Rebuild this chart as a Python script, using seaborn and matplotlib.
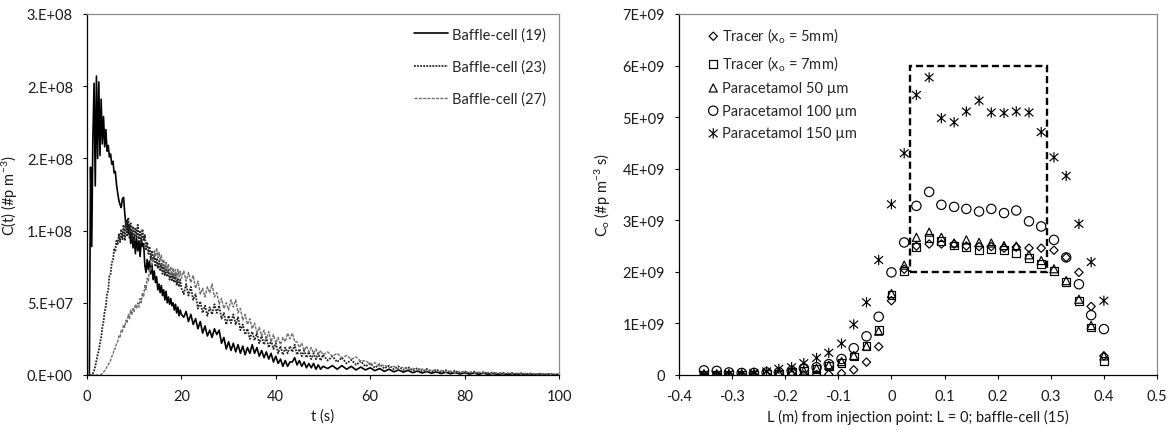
import numpy as np
import matplotlib
matplotlib.use("Agg")
import matplotlib.pyplot as plt
from matplotlib.path import Path
from matplotlib.patches import Rectangle
import seaborn as sns

# ---------------- left panel: concentration vs time (units of 1E7 #p m^-3) ----------------
# sampling: 0-20 s every 0.25 s, 20.5-50 s every 0.5 s, 51-100 s every 1 s
t_early = np.arange(0, 20.001, 0.25)
t_mid = np.arange(20.5, 50.001, 0.5)
t_late = np.arange(51, 100.001, 1.0)

bc19_early = [0, 0, 0, 14.4, 8.9, 16.5, 20.2, 13.1, 20.7, 15.0,
              20.3, 15.2, 19.1, 16.0, 17.9, 15.8, 17.0, 15.5, 15.9, 15.1,
              15.3, 14.6, 14.8, 14.0, 14.1, 13.2, 12.6, 12.1, 11.8, 11.6,
              12.2, 12.3, 11.2, 10.3, 10.7, 9.8, 10.4, 9.1, 9.9, 8.8,
              9.6, 8.4, 9.5, 8.6, 9.3, 8.2, 9.4, 8.9, 9.1, 7.6,
              7.1, 8.0, 7.3, 7.9, 7.0, 7.7, 6.6, 7.2, 6.4, 6.8,
              5.9, 6.3, 5.7, 6.2, 5.5, 5.9, 5.2, 5.8, 5.0, 5.4,
              4.9, 5.3, 4.8, 5.0, 4.5, 4.9, 4.3, 4.7, 4.1, 4.5,
              4.2]
bc19_mid = [4.0, 4.4, 3.7, 4.2, 3.5, 3.9, 3.2, 3.7, 2.9, 3.4,
            2.7, 3.1, 2.6, 3.2, 2.8, 3.1, 2.2, 2.6, 1.8, 2.3,
            1.7, 2.2, 1.6, 2.1, 1.5, 2.0, 1.4, 1.9, 1.5, 2.1,
            1.5, 1.9, 1.3, 1.7, 1.2, 1.6, 1.1, 1.5, 0.9, 1.3,
            0.8, 1.1, 0.6, 1.0, 0.6, 0.9, 0.9, 1.2, 0.7, 1.0,
            0.6, 0.9, 0.5, 0.8, 0.5, 0.8, 0.4, 0.7, 0.4, 0.6]
bc19_late = [0.45, 0.65, 0.4, 0.65, 0.4, 0.6, 0.35, 0.55, 0.35, 0.5,
             0.3, 0.45, 0.25, 0.4, 0.22, 0.35, 0.2, 0.32, 0.16, 0.28,
             0.14, 0.24, 0.12, 0.22, 0.1, 0.19, 0.09, 0.17, 0.07, 0.15,
             0.06, 0.13, 0.05, 0.12, 0.05, 0.1, 0.04, 0.09, 0.03, 0.08,
             0.03, 0.07, 0.02, 0.06, 0.02, 0.05, 0.02, 0.04, 0.01, 0.03]

bc23_early = [0, 0, 0, 0, 0, 0.1, 0.3, 0.6, 1.0, 1.4,
              1.7, 2.2, 2.6, 3.3, 3.7, 4.4, 4.8, 5.6, 5.9, 6.9,
              7.0, 7.8, 7.9, 8.7, 8.6, 9.3, 9.0, 9.8, 9.2, 10.1,
              9.4, 10.4, 9.3, 10.6, 9.6, 10.9, 9.5, 10.5, 9.4, 10.3,
              9.3, 10.2, 9.5, 10.4, 9.4, 10.0, 9.2, 10.1, 9.3, 9.7,
              8.7, 9.2, 8.4, 8.9, 8.0, 8.6, 7.8, 8.3, 7.5, 8.1,
              7.4, 7.9, 7.2, 7.7, 7.0, 7.6, 6.9, 7.5, 6.8, 7.3,
              6.6, 7.1, 6.5, 7.0, 6.4, 6.9, 6.2, 6.7, 6.1, 6.6,
              6.0]
bc23_mid = [5.6, 6.3, 5.5, 6.1, 5.2, 5.6, 4.6, 5.1, 4.3, 4.8,
            4.1, 4.7, 4.2, 4.9, 4.3, 4.8, 3.9, 4.3, 3.5, 4.1,
            3.6, 4.2, 3.5, 4.0, 3.1, 3.5, 2.8, 3.2, 2.5, 3.0,
            2.4, 2.9, 2.2, 2.7, 2.1, 2.6, 1.9, 2.4, 1.8, 2.2,
            1.5, 2.0, 1.4, 1.9, 1.5, 2.0, 1.6, 2.1, 1.4, 1.8,
            1.3, 1.7, 1.2, 1.6, 1.1, 1.5, 1.1, 1.5, 1.0, 1.4]
bc23_late = [1.0, 1.3, 0.9, 1.2, 0.8, 1.05, 0.7, 0.95, 0.6, 0.8,
             0.5, 0.75, 0.45, 0.65, 0.4, 0.6, 0.35, 0.55, 0.3, 0.48,
             0.25, 0.42, 0.22, 0.38, 0.2, 0.33, 0.16, 0.3, 0.14, 0.26,
             0.12, 0.23, 0.1, 0.2, 0.09, 0.18, 0.07, 0.16, 0.06, 0.14,
             0.05, 0.12, 0.05, 0.1, 0.04, 0.09, 0.03, 0.08, 0.03, 0.06]

bc27_early = [0, 0, 0, 0, 0, 0, 0, 0, 0, 0,
              0, 0, 0.05, 0.1, 0.2, 0.3, 0.4, 0.6, 0.7, 0.9,
              1.0, 1.3, 1.4, 1.8, 1.8, 2.2, 2.3, 2.7, 2.6, 3.1,
              3.0, 3.5, 3.3, 3.8, 3.6, 4.2, 3.9, 4.5, 4.2, 4.6,
              4.4, 4.9, 4.6, 5.0, 4.7, 5.3, 5.0, 5.7, 5.4, 6.2,
              5.9, 6.7, 6.5, 7.4, 7.2, 8.1, 7.8, 8.6, 8.2, 8.8,
              8.1, 8.5, 7.9, 8.3, 7.6, 8.0, 7.4, 7.8, 7.2, 7.7,
              7.0, 7.5, 6.9, 7.4, 6.8, 7.3, 6.7, 7.3, 6.8, 7.2,
              6.7]
bc27_mid = [7.2, 6.5, 7.1, 6.4, 6.9, 6.0, 6.5, 5.6, 6.0, 5.4,
            6.1, 5.7, 6.3, 5.4, 5.7, 4.9, 5.3, 4.6, 5.0, 4.5,
            5.2, 4.7, 5.2, 4.3, 4.6, 3.8, 4.2, 3.5, 3.9, 3.2,
            3.6, 2.9, 3.3, 2.7, 3.1, 2.5, 3.0, 2.3, 2.8, 2.2,
            2.6, 2.1, 2.6, 2.3, 2.9, 2.5, 2.9, 2.3, 2.3, 1.9,
            2.2, 1.7, 2.0, 1.6, 1.9, 1.5, 1.8, 1.4, 1.7, 1.4]
bc27_late = [1.6, 1.3, 1.5, 1.2, 1.35, 1.1, 1.25, 0.95, 1.0, 0.75,
             0.85, 0.6, 0.7, 0.5, 0.6, 0.42, 0.55, 0.37, 0.46, 0.32,
             0.42, 0.27, 0.36, 0.23, 0.32, 0.2, 0.28, 0.17, 0.25, 0.14,
             0.22, 0.12, 0.2, 0.1, 0.18, 0.08, 0.16, 0.07, 0.14, 0.06,
             0.13, 0.05, 0.12, 0.05, 0.1, 0.04, 0.09, 0.03, 0.07, 0.03]

left_yticks = [0, 5e7, 1e8, 1.5e8, 2e8, 2.5e8]
left_yticklabels = ["0.E+00", "5.E+07", "1.E+08", "2.E+08", "2.E+08", "3.E+08"]
left_xticks = [0, 20, 40, 60, 80, 100]

# ---------------- right panel: C_o along the column (units of 1E9) ----------------
L_pos = [-0.353, -0.329, -0.306, -0.282, -0.259, -0.235, -0.212, -0.188, -0.165,
         -0.141, -0.118, -0.094, -0.071, -0.047, -0.024, 0.0, 0.024, 0.047, 0.071,
         0.094, 0.118, 0.141, 0.165, 0.188, 0.212, 0.235, 0.259, 0.282, 0.306,
         0.329, 0.353, 0.376, 0.400]
tracer_5mm = [0.0, 0.0, 0.0, 0.0, 0.0, 0.0, 0.0, 0.0, 0.0, 0.01, 0.01, 0.03, 0.10,
              0.25, 0.55, 1.44, 2.05, 2.50, 2.54, 2.54, 2.54, 2.50, 2.49, 2.49,
              2.46, 2.48, 2.46, 2.46, 2.42, 2.28, 1.99, 1.33, 0.37]
tracer_7mm = [0.01, 0.01, 0.01, 0.01, 0.01, 0.02, 0.03, 0.05, 0.07, 0.12, 0.17,
              0.23, 0.36, 0.57, 0.87, 1.55, 2.02, 2.48, 2.65, 2.60, 2.51, 2.48,
              2.43, 2.44, 2.42, 2.37, 2.27, 2.15, 2.02, 1.80, 1.44, 0.92, 0.27]
para_50 = [0.02, 0.02, 0.02, 0.02, 0.02, 0.03, 0.04, 0.06, 0.08, 0.13, 0.19, 0.26,
           0.38, 0.56, 0.85, 1.58, 2.13, 2.67, 2.77, 2.67, 2.56, 2.62, 2.57, 2.56,
           2.51, 2.50, 2.33, 2.22, 2.06, 1.83, 1.47, 0.96, 0.37]
para_100 = [0.09, 0.08, 0.05, 0.04, 0.04, 0.05, 0.05, 0.08, 0.13, 0.15, 0.21, 0.31,
            0.52, 0.75, 1.13, 1.99, 2.57, 3.28, 3.55, 3.30, 3.26, 3.22, 3.17, 3.22,
            3.14, 3.19, 2.98, 2.88, 2.62, 2.28, 1.76, 1.16, 0.89]
para_150 = [0.01, 0.01, 0.02, 0.02, 0.04, 0.07, 0.12, 0.15, 0.23, 0.33, 0.43, 0.61,
            0.98, 1.41, 2.23, 3.31, 4.30, 5.43, 5.77, 4.98, 4.90, 5.11, 5.32, 5.09,
            5.08, 5.11, 5.09, 4.71, 4.22, 3.86, 2.93, 2.19, 1.44]

right_labels = ["Tracer (x$_\\mathrm{o}$ = 5mm)", "Tracer (x$_\\mathrm{o}$ = 7mm)",
                "Paracetamol 50 µm", "Paracetamol 100 µm", "Paracetamol 150 µm"]
right_xticks = [-0.4, -0.3, -0.2, -0.1, 0, 0.1, 0.2, 0.3, 0.4, 0.5]
right_xticklabels = ["-0.4", "-0.3", "-0.2", "-0.1", "0", "0.1", "0.2", "0.3", "0.4", "0.5"]
right_yticks = [0, 1e9, 2e9, 3e9, 4e9, 5e9, 6e9, 7e9]
right_yticklabels = ["0", "1E+09", "2E+09", "3E+09", "4E+09", "5E+09", "6E+09", "7E+09"]

# dashed box marking the plateau region
box_x0, box_x1 = 0.035, 0.293
box_y0, box_y1 = 2e9, 6e9

# ---------------- styling ----------------
sns.set_style("ticks")
plt.rcParams["font.family"] = ["Lato", "DejaVu Sans"]
plt.rcParams["mathtext.fontset"] = "custom"
plt.rcParams["mathtext.rm"] = "Lato"
plt.rcParams["mathtext.it"] = "Lato:italic"
plt.rcParams["mathtext.bf"] = "Lato:bold"
plt.rcParams["axes.unicode_minus"] = False

FS = 10.5
TEXT = "#1a1a1a"
FRAME = "#8c8c8c"

fig = plt.figure(figsize=(11.74, 4.31), dpi=100)
ax1 = fig.add_axes([87 / 1174, 1 - 376 / 431, (559 - 87) / 1174, (376 - 15) / 431])
ax2 = fig.add_axes([679 / 1174, 1 - 376 / 431, (1157 - 679) / 1174, (376 - 15) / 431])


def style_axes(ax):
    for side in ("left", "bottom"):
        ax.spines[side].set_color("black")
        ax.spines[side].set_linewidth(0.9)
    for side in ("top", "right"):
        ax.spines[side].set_visible(True)
        ax.spines[side].set_color(FRAME)
        ax.spines[side].set_linewidth(0.9)
    ax.tick_params(axis="both", direction="out", length=3.2, width=0.8,
                   color="black", labelsize=FS, labelcolor=TEXT)
    ax.tick_params(axis="x", pad=7)
    ax.tick_params(axis="y", pad=7)
    ax.grid(False)


# left panel
t_all = np.concatenate([t_early, t_mid, t_late])
series_left = [
    ("Baffle-cell (19)", bc19_early + bc19_mid + bc19_late,
     dict(color="black", linestyle="-", linewidth=1.2)),
    ("Baffle-cell (23)", bc23_early + bc23_mid + bc23_late,
     dict(color="#262626", linestyle=(0, (1, 0.7)), linewidth=1.3)),
    ("Baffle-cell (27)", bc27_early + bc27_mid + bc27_late,
     dict(color="#6e6e6e", linestyle=(0, (2.2, 0.9)), linewidth=1.0)),
]
for name, vals, kw in series_left:
    sns.lineplot(x=t_all, y=np.array(vals) * 1e7, ax=ax1, label=name, **kw)

ax1.set_xlim(0, 100)
ax1.set_ylim(0, 2.5e8)
ax1.set_xticks(left_xticks)
ax1.set_xticklabels([str(v) for v in left_xticks])
ax1.set_yticks(left_yticks)
ax1.set_yticklabels(left_yticklabels)
ax1.set_xlabel("t (s)", color=TEXT, fontsize=FS, labelpad=4)
ax1.set_ylabel("C(t) (#p m$^{\\mathrm{-3}}$)", color=TEXT, fontsize=FS)
ax1.yaxis.set_label_coords(-0.142, 0.5)
style_axes(ax1)
ax1.legend(loc="upper right", frameon=False, fontsize=FS, handlelength=2.3,
           handletextpad=0.3, labelspacing=1.22, borderaxespad=0.5,
           bbox_to_anchor=(1.0, 1.0))

# right panel
star = Path([(0, -1), (0, 1), (-0.85, -0.75), (0.85, 0.75), (-0.85, 0.75), (0.85, -0.75)],
            [Path.MOVETO, Path.LINETO, Path.MOVETO, Path.LINETO, Path.MOVETO, Path.LINETO])
series_right = [
    (tracer_5mm, "D", 18),
    (tracer_7mm, "s", 32),
    (para_50, "^", 34),
    (para_100, "o", 45),
    (para_150, star, 55),
]
for (vals, mk, size), name in zip(series_right, right_labels):
    sns.scatterplot(x=L_pos, y=np.array(vals) * 1e9, ax=ax2, marker=mk, s=size,
                    facecolor="none", edgecolor="black", linewidth=0.85, label=name,
                    zorder=3)

ax2.add_patch(Rectangle((box_x0, box_y0), box_x1 - box_x0, box_y1 - box_y0,
                        fill=False, edgecolor="black", linewidth=1.7,
                        linestyle=(0, (3, 1.6)), zorder=2))

ax2.set_xlim(-0.4, 0.5)
ax2.set_ylim(0, 7e9)
ax2.set_xticks(right_xticks)
ax2.set_xticklabels(right_xticklabels)
ax2.set_yticks(right_yticks)
ax2.set_yticklabels(right_yticklabels)
ax2.set_xlabel("L (m) from injection point: L = 0; baffle-cell (15)", color=TEXT,
               fontsize=FS, labelpad=4)
ax2.set_ylabel("C$_\\mathrm{o}$ (#p m$^{\\mathrm{-3}}$ s)", color=TEXT, fontsize=FS)
ax2.yaxis.set_label_coords(-0.138, 0.5)
style_axes(ax2)
ax2.legend(loc="upper left", frameon=False, fontsize=FS, handlelength=0.8,
           handletextpad=0.2, labelspacing=0.6, borderaxespad=0.4,
           bbox_to_anchor=(0.035, 1.0))

fig.savefig("out.png", dpi=100)
